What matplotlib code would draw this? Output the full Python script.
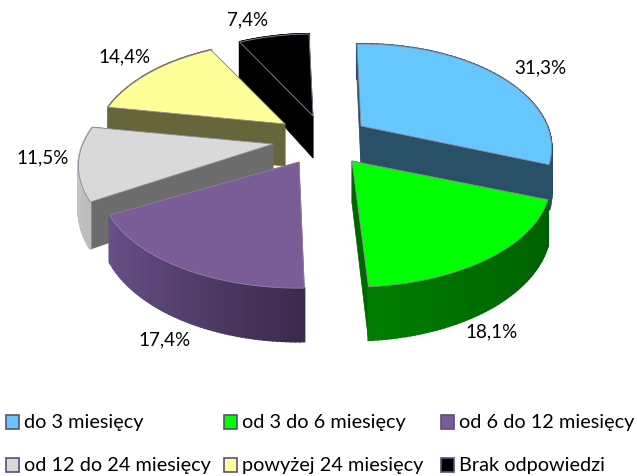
# plot.py
import numpy as np
import matplotlib
matplotlib.use('Agg')
import matplotlib.pyplot as plt
from matplotlib.colors import to_rgb
from matplotlib.patches import Rectangle

plt.rcParams['font.family'] = ['Lato', 'DejaVu Sans']

# Data
kategorien = ['do 3 miesięcy', 'od 3 do 6 miesięcy', 'od 6 do 12 miesięcy',
              'od 12 do 24 miesięcy', 'powyżej 24 miesięcy', 'Brak odpowiedzi']
werte = [31.3, 18.1, 17.4, 11.5, 14.4, 7.4]

# Styles
farben = ['#66C7FF', '#00FF00', '#7A5C96', '#D9D9D9', '#FFFF99', '#000000']
schnitt = ['#2A5068', '#006600', '#5F4878', '#6C6C6C', '#66663A', '#000000']
wand_a = ['#2A5068', '#008000', '#3A2B4D', '#8A8A8A', '#66663A', '#000000']
wand_b = ['#2A5068', '#005E00', '#6F5590', '#C4C4C4', '#66663A', '#000000']
spitzen = [(361, 127), (352, 162), (299, 163), (273, 145), (285, 125), (313, 117)]
rx_faktor = [0.96, 1.0, 1.0, 0.98, 0.96, 0.95]
zusatz_drehung = [0, 0, 2.6, 0, 0, 0]
label_pos = [(540, 68), (492, 332), (164, 340), (43, 158), (125, 57), (248, 20)]
legende_x = [6, 224, 441]
legende_y = [423, 466]
reihenfolge = [5, 4, 3, 2, 0, 1]

# Perspektive der Scheibe
RX = 194
RY = 99.4
P = 0.212
TIEFE = 42
DREHUNG = -1.5


def projektion(spitze, winkel, faktor):
    w = np.radians(winkel)
    u = np.sin(w)
    v = np.cos(w)
    s = 1 / (1 + P * v)
    return spitze[0] + RX * faktor * u * s, spitze[1] - RY * v * s, s


fig = plt.figure(figsize=(6.37, 4.77), dpi=100)
ax = fig.add_axes([0, 0, 1, 1])
ax.set_xlim(0, 637)
ax.set_ylim(477, 0)
ax.axis('off')

grenzen = np.cumsum([0] + werte) / sum(werte) * 360 + DREHUNG

for i in reihenfolge:
    spitze = spitzen[i]
    ebene = reihenfolge.index(i) * 3
    winkel = np.linspace(grenzen[i], grenzen[i + 1], 60) + zusatz_drehung[i]
    x, y, s = projektion(spitze, winkel, rx_faktor[i])
    unten = y + TIEFE * s

    # Schnittflaechen
    for k in [0, -1]:
        ax.fill([spitze[0], x[k], x[k], spitze[0]],
                [spitze[1], y[k], unten[k], spitze[1] + TIEFE],
                color=schnitt[i], lw=0.5, zorder=ebene)

    # Aussenwand als Streifen, damit der Verlauf sichtbar wird
    a = np.array(to_rgb(wand_a[i]))
    b = np.array(to_rgb(wand_b[i]))
    for k in range(len(x) - 1):
        t = abs(np.sin(np.radians(winkel[k])))
        ax.fill([x[k], x[k + 1], x[k + 1], x[k]],
                [y[k], y[k + 1], unten[k + 1], unten[k]],
                color=a + (b - a) * t, lw=1.5, zorder=ebene + 1)

    # Deckflaeche
    ax.fill(np.r_[spitze[0], x], np.r_[spitze[1], y], facecolor=farben[i],
            edgecolor='#8F86A0', lw=0.6, zorder=ebene + 2)

    text = f'{werte[i]:.1f}%'.replace('.', ',')
    ax.text(label_pos[i][0], label_pos[i][1], text, fontsize=13.5, color='black',
            ha='center', va='center', zorder=30)

# Legende
for i, name in enumerate(kategorien):
    lx = legende_x[i % 3]
    ly = legende_y[i // 3]
    ax.add_patch(Rectangle((lx, ly - 7), 13, 14, facecolor=farben[i],
                           edgecolor='#5F4B7E', lw=1.2))
    ax.text(lx + 18, ly, name, fontsize=14.3, color='black', ha='left', va='center')

fig.savefig('out.png', dpi=100)
